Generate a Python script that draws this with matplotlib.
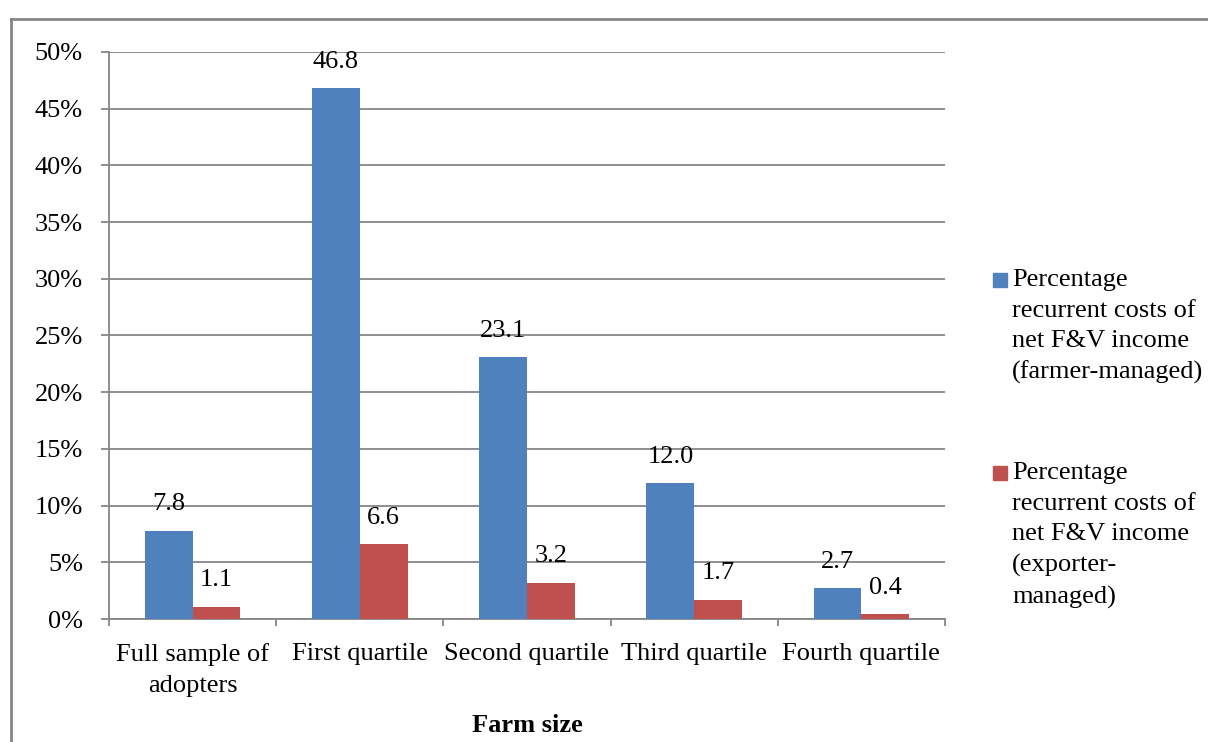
import matplotlib.pyplot as plt
from matplotlib.patches import Rectangle
from matplotlib.lines import Line2D
import numpy as np

categories = ["Full sample of\nadopters", "First quartile", "Second quartile",
              "Third quartile", "Fourth quartile"]
farmer_managed = [7.8, 46.8, 23.1, 12.0, 2.7]
exporter_managed = [1.1, 6.6, 3.2, 1.7, 0.4]
legend_labels = ["Percentage\nrecurrent costs of\nnet F&V income\n(farmer-managed)",
                 "Percentage\nrecurrent costs of\nnet F&V income\n(exporter-\nmanaged)"]
colors = ["#4F81BD", "#C0504D"]

plt.rcParams['font.family'] = ['Liberation Serif', 'DejaVu Serif']
plt.rcParams['font.size'] = 19

W, H = 1208, 742
fig = plt.figure(figsize=(W/100, H/100), dpi=100)
grey = "#868686"

# outer frame (runs off right/bottom edge like the original)
fig.add_artist(Line2D([11/W, 1], [(H-19)/H]*2, color=grey, lw=2, transform=fig.transFigure))
fig.add_artist(Line2D([11/W]*2, [0, (H-19)/H], color=grey, lw=2, transform=fig.transFigure))

ax = fig.add_axes([109/W, (H-619)/H, (945-109)/W, (619-52)/H])

x = np.arange(len(categories))
w = 1/3.5
b1 = ax.bar(x - w/2, farmer_managed, w, color=colors[0], zorder=3)
b2 = ax.bar(x + w/2, exporter_managed, w, color=colors[1], zorder=3)

for bars, vals in ((b1, farmer_managed), (b2, exporter_managed)):
    for r, v in zip(bars, vals):
        ax.annotate(f"{v:.1f}", (r.get_x() + r.get_width()/2, v), xytext=(0, 19),
                    textcoords="offset points", ha="center", va="center")

ax.set_xlim(-0.5, len(categories) - 0.5)
ax.set_ylim(0, 50)
ax.set_yticks(np.arange(0, 51, 5))
ax.set_yticklabels([f"{v}%" for v in range(0, 51, 5)])
ax.yaxis.grid(True, color=grey, lw=1.3, zorder=0)
ax.tick_params(axis="y", length=5.8, width=1.3, color=grey, pad=13)

ax.set_xticks(x)
ax.set_xticklabels(categories, linespacing=1.55)
ax.set_xticks(np.arange(-0.5, len(categories)), minor=True)
ax.tick_params(axis="x", which="major", length=0, pad=17)
ax.tick_params(axis="x", which="minor", length=5, width=1.3, color=grey)

for s in ("top", "right"):
    ax.spines[s].set_visible(False)
for s in ("left", "bottom"):
    ax.spines[s].set_color(grey)
    ax.spines[s].set_linewidth(1.3)

ax.set_xlabel("Farm size", fontweight="bold", labelpad=12)

# legend: square aligned with the first text line, as in the original
for lab, col, ytop in zip(legend_labels, colors, (266, 459)):
    fig.patches.append(Rectangle((993/W, (H-ytop-21)/H), 14/W, 14/H,
                                 transform=fig.transFigure, color=col))
    fig.text(1012/W, (H-ytop-3)/H, lab, va="top", ha="left", linespacing=1.5)

fig.savefig("out.png", dpi=100)
